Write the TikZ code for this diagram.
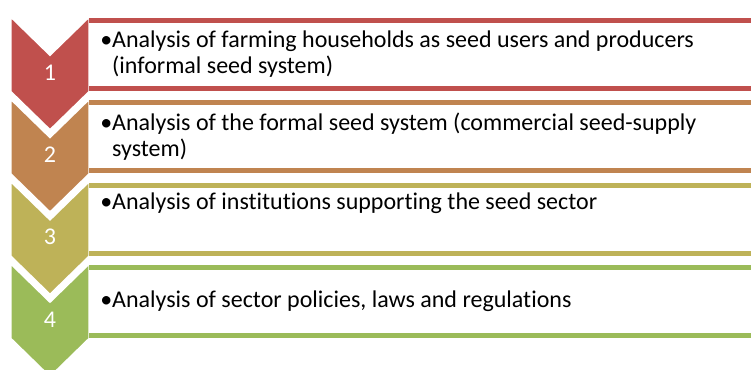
\documentclass[tikz,border=0pt]{standalone}
\usepackage{fontspec}
\setmainfont[Ligatures=CommonOff]{Carlito}
\usepackage{tikz}
\usetikzlibrary{calc}
\definecolor{stepred}{RGB}{192,80,77}
\definecolor{stepbrown}{RGB}{192,132,80}
\definecolor{stepolive}{RGB}{190,178,88}
\definecolor{stepgreen}{RGB}{155,187,89}
% chevron: top y, colour, number, node name
\newcommand{\chevnode}[4]{\filldraw[#2, draw=white, line width=2.5pt] (10,#1) -- (50,#1+39) -- (90,#1) -- (90,#1+77) -- (50,#1+116) -- (10,#1+77) -- cycle;
  \node[numtext] (#4) at (50,#1+57.5) {#3};}
% open box right of a chevron: top y, colour, node name
\newcommand{\boxnode}[3]{\draw[line width=3.75pt, #2] (88.5,#1+5.5) -- (775,#1+5.5) -- (775,#1+73.5) -- (88.5,#1+73.5);
  \coordinate (#3) at (100,#1+39.5);}

\begin{document}
\begin{tikzpicture}[x=0.75pt, y=-0.75pt,
    numtext/.style={text=white, inner sep=0pt, font=\fontsize{18}{20}\selectfont},
    itemtext/.style={anchor=west, inner sep=0pt, align=left, font=\fontsize{18}{19.5}\selectfont}]
        \useasboundingbox (0,0) rectangle (751,370);
        %chevrons
        \chevnode{15}{stepred}{1}{c1}
        \chevnode{97.3}{stepbrown}{2}{c2}
        \chevnode{179.6}{stepolive}{3}{c3}
        \chevnode{261.9}{stepgreen}{4}{c4}
        %boxes
        \boxnode{15}{stepred}{b1}
        \boxnode{97.3}{stepbrown}{b2}
        \boxnode{179.6}{stepolive}{b3}
        \boxnode{261.9}{stepgreen}{b4}
        %texts
        \node[itemtext] (t1) at (b1) {\textbullet Analysis of farming households as seed users and producers\\\phantom{\textbullet}(informal seed system)};
        \node[itemtext] (t2) at (b2) {\textbullet Analysis of the formal seed system (commercial seed-supply\\\phantom{\textbullet}system)};
        \node[itemtext] (t3) at ($(b3)+(0,-16)$) {\textbullet Analysis of institutions supporting the seed sector};
        \node[itemtext] (t4) at (b4) {\textbullet Analysis of sector policies, laws and regulations};
\end{tikzpicture}
\end{document}
